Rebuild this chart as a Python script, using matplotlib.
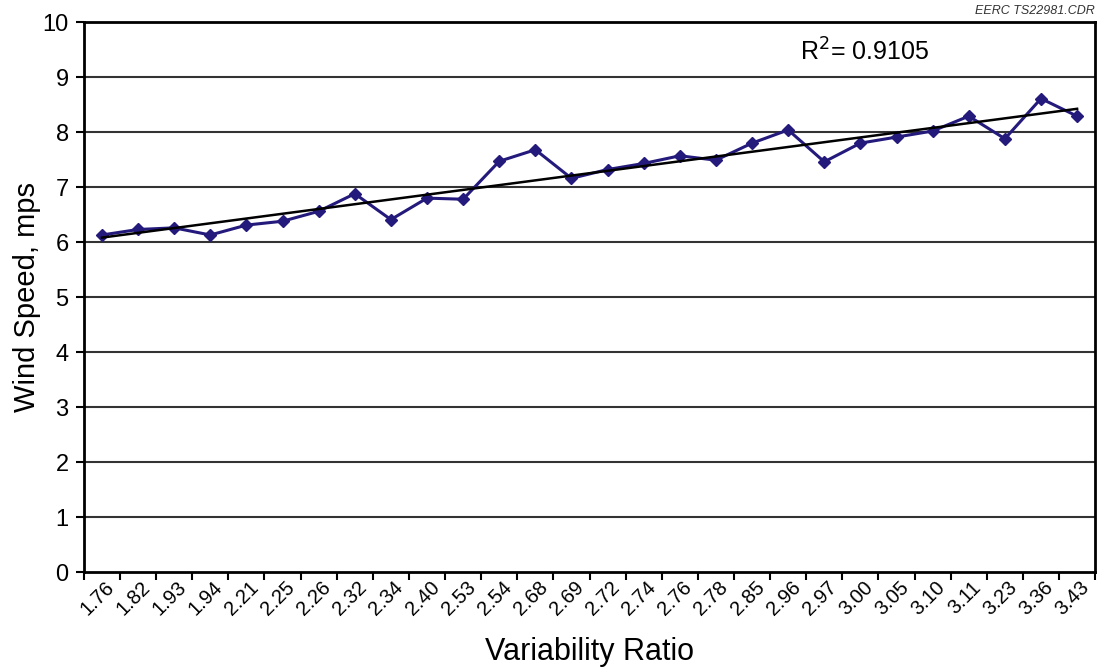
import numpy as np
import matplotlib
matplotlib.use("Agg")
import matplotlib.pyplot as plt
from matplotlib.transforms import ScaledTranslation

plt.rcParams["font.family"] = ["Liberation Sans", "DejaVu Sans"]

# variability ratio categories and wind speed (mps)
ratios = ["1.76", "1.82", "1.93", "1.94", "2.21", "2.25", "2.26", "2.32",
          "2.34", "2.40", "2.53", "2.54", "2.68", "2.69", "2.72", "2.74",
          "2.76", "2.78", "2.85", "2.96", "2.97", "3.00", "3.05", "3.10",
          "3.11", "3.23", "3.36", "3.43"]
wind = [6.13, 6.23, 6.26, 6.13, 6.31, 6.38, 6.56, 6.88, 6.41, 6.80,
        6.78, 7.47, 7.68, 7.16, 7.32, 7.43, 7.57, 7.49, 7.80, 8.04,
        7.46, 7.80, 7.91, 8.02, 8.29, 7.88, 8.61, 8.29]
r2_text = "0.9105"

x = np.arange(1, len(ratios) + 1)
slope, icpt = np.polyfit(x, wind, 1)

fig = plt.figure(figsize=(11.04, 6.70), dpi=100)
ax = fig.add_axes([0.076, 0.146, 0.916, 0.821])

ax.plot(x, wind, color="#241a7c", lw=2.2, marker="D", ms=6.5,
        mec="#241a7c", mfc="#241a7c", zorder=3)
ax.plot([x[0], x[-1]], [icpt + slope * x[0], icpt + slope * x[-1]],
        color="black", lw=1.8, zorder=4)

ax.set_xlim(0.5, len(ratios) + 0.5)
ax.set_ylim(0, 10)
ax.set_yticks(range(0, 11))
ax.tick_params(axis="y", labelsize=17, length=6, width=1.5, direction="out",
               pad=5)
for v in range(1, 10):
    ax.axhline(v, color="#333333", lw=1.5, zorder=1)

ax.set_xticks(x)
ax.set_xticklabels(ratios, rotation=45, ha="right", va="top", fontsize=14.5)
ax.set_xticks(np.arange(0.5, len(ratios) + 1), minor=True)
ax.tick_params(axis="x", which="major", length=0, pad=4)
ax.tick_params(axis="x", which="minor", length=6, width=1.5, direction="out")
offset = ScaledTranslation(16 / 100, 0, fig.dpi_scale_trans)
for lbl in ax.get_xticklabels():
    lbl.set_transform(lbl.get_transform() + offset)

for s in ax.spines.values():
    s.set_linewidth(2)

ax.set_ylabel("Wind Speed, mps", fontsize=21, labelpad=1)
ax.set_xlabel("Variability Ratio", fontsize=22, labelpad=13)

ax.text(0.708, 0.945, r"R$^2$= " + r2_text, transform=ax.transAxes,
        fontsize=18, va="center", ha="left")
fig.text(0.992, 0.974, "EERC TS22981.CDR", fontsize=9, style="italic",
         ha="right", va="bottom", color="#333333")

fig.savefig("out.png", dpi=100)
